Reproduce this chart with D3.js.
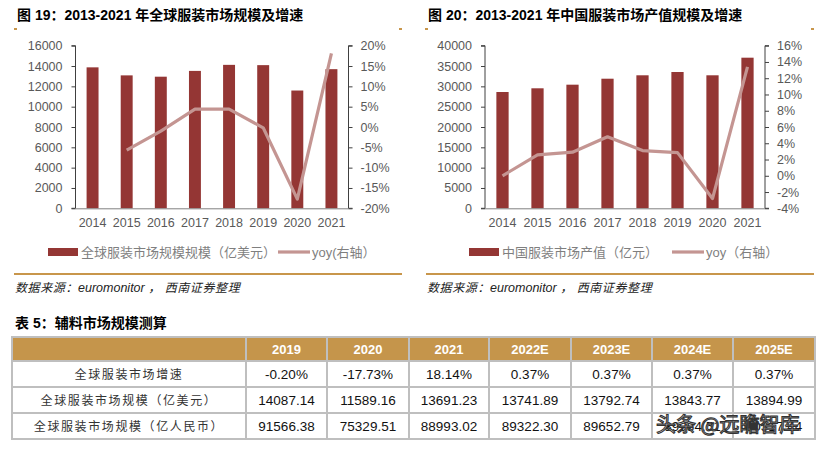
<!DOCTYPE html>
<html><head><meta charset="utf-8">
<script src="https://cdn.jsdelivr.net/npm/d3@7"></script>
<style>
html,body{margin:0;padding:0;background:#fff;}
svg{display:block;}
</style></head>
<body><svg id="c" width="820" height="449"></svg>
<script>
// ---------- data ----------
const years = ["2014","2015","2016","2017","2018","2019","2020","2021"];
const globalSize = [13870, 13080, 12950, 13520, 14115, 14087, 11589, 13691];
const globalYoy = [null, -5.7, -1.0, 4.4, 4.4, -0.2, -17.73, 18.14];
const chinaSize = [28610, 29520, 30410, 31880, 32720, 33530, 32720, 37050];
const chinaYoy = [0.0, 2.56, 2.9, 4.8, 3.1, 2.85, -2.8, 13.4];
const leftTicks1 = [0,2000,4000,6000,8000,10000,12000,14000,16000];
const rightTicks1 = [-20,-15,-10,-5,0,5,10,15,20];
const leftTicks2 = [0,5000,10000,15000,20000,25000,30000,35000,40000];
const rightTicks2 = [-4,-2,0,2,4,6,8,10,12,14,16];
const tableCols = ["2019","2020","2021","2022E","2023E","2024E","2025E"];
const rowLabels = ["全球服装市场增速","全球服装市场规模（亿美元）","全球服装市场规模（亿人民币）"];
const rowGrowth = ["-0.20%","-17.73%","18.14%","0.37%","0.37%","0.37%","0.37%"];
const rowUSD = ["14087.14","11589.16","13691.23","13741.89","13792.74","13843.77","13894.99"];
const rowRMB = ["91566.38","75329.51","88993.02","89322.30","89652.79","89984.51","90317.44"];

const svg = d3.select("#c");
svg.append("rect").attr("width",820).attr("height",449).attr("fill","#fff");
const NUM = "'Liberation Sans', Arial, 'Noto Sans CJK SC', sans-serif";
const CJK = "'Liberation Sans', 'Noto Sans CJK SC', sans-serif";
const BAR = "#943634", LINE = "#C49592", GOLD = "#C8964B", TICK = "#595959";

function chart(o){
  const g = svg.append("g");
  // title
  g.append("text").attr("x",o.tx).attr("y",20).attr("font-family",CJK).attr("font-weight","bold")
    .attr("font-size",14).attr("fill","#000").text(o.title);
  g.append("rect").attr("x",o.tx-3).attr("y",28).attr("width",3).attr("height",2).attr("fill",GOLD);
  g.append("rect").attr("x",o.sepR-3).attr("y",28).attr("width",3).attr("height",2).attr("fill",GOLD);
  const yT = 45.7, yB = 208.3;
  const x = d3.scaleBand().domain(years).range([o.x0,o.x1]).paddingInner(0.65).paddingOuter(0.325);
  const yl = d3.scaleLinear().domain(o.ld).range([yB,yT]);
  const yr = d3.scaleLinear().domain(o.rd).range([yB,yT]);
  // bars
  g.selectAll(".bar").data(o.bars).join("rect")
    .attr("x",(d,i)=>x(years[i])).attr("width",x.bandwidth())
    .attr("y",d=>yl(d)).attr("height",d=>yB-yl(d)).attr("fill",BAR);
  // line
  const pts = o.line.map((v,i)=>[x(years[i])+x.bandwidth()/2, v]).filter(p=>p[1]!==null);
  g.append("path").datum(pts).attr("fill","none").attr("stroke",LINE).attr("stroke-width",3.2)
    .attr("stroke-linejoin","round")
    .attr("d",d3.line().x(p=>p[0]).y(p=>yr(p[1])));
  // axes
  const la = d3.axisLeft(yl).tickValues(o.lt).tickSize(4).tickPadding(9).tickFormat(d3.format("d"));
  const ga = g.append("g").attr("transform",`translate(${o.x0},0)`).call(la);
  const ra = d3.axisRight(yr).tickValues(o.rt).tickSize(4).tickPadding(8).tickFormat(d=>d+"%");
  const gr = g.append("g").attr("transform",`translate(${o.x1},0)`).call(ra);
  [ga,gr].forEach(a=>{
    a.select(".domain").attr("stroke","#404040").attr("d", a===ga?`M-4,${yT}H0V${yB}H-4`:`M4,${yT}H0V${yB}H4`);
    a.selectAll(".tick line").attr("stroke","#404040");
    a.selectAll("text").attr("font-family",NUM).attr("font-size",12.5).attr("fill",TICK);
  });
  const xa = d3.axisBottom(x).tickSize(0).tickPadding(10);
  const gx = g.append("g").attr("transform",`translate(0,${yB})`).call(xa);
  gx.select(".domain").attr("stroke","#808080").attr("d",`M${o.x0},0.5H${o.x1}`);
  gx.selectAll("text").attr("font-family",NUM).attr("font-size",12.5).attr("fill",TICK);
  // legend
  g.append("rect").attr("x",o.lg1).attr("y",248).attr("width",30).attr("height",8).attr("fill",BAR);
  g.append("text").attr("x",o.lg1+33).attr("y",257).attr("font-family",CJK).attr("font-size",13)
    .attr("fill","#7F7F7F").text(o.leg1);
  g.append("line").attr("x1",o.lg2).attr("x2",o.lg2+32).attr("y1",252).attr("y2",252)
    .attr("stroke",LINE).attr("stroke-width",3.2);
  g.append("text").attr("x",o.lg2+34).attr("y",257).attr("font-family",CJK).attr("font-size",13)
    .attr("fill","#7F7F7F").text(o.leg2);
  // separator + source
  g.append("line").attr("x1",o.sepL).attr("x2",o.sepR).attr("y1",274).attr("y2",274)
    .attr("stroke",GOLD).attr("stroke-width",2);
  const src = g.append("text").attr("x",o.sepL+1).attr("y",292).attr("font-family",CJK).attr("font-size",12)
    .attr("font-style","italic").attr("fill","#222");
  src.append("tspan").attr("letter-spacing","0.6px").text("数据来源：");
  src.append("tspan").attr("font-size",12.5).text("euromonitor ，");
  src.append("tspan").attr("letter-spacing","0.6px").text(" 西南证券整理");
}

chart({title:"图 19：2013-2021 年全球服装市场规模及增速", tx:17, x0:75.5, x1:348.5,
  ld:[0,16000], rd:[-20,20], lt:leftTicks1, rt:rightTicks1, bars:globalSize, line:globalYoy,
  lg1:48, leg1:"全球服装市场规模规模（亿美元）", lg2:278, leg2:"yoy(右轴）", sepL:14, sepR:402});
chart({title:"图 20：2013-2021 年中国服装市场产值规模及增速", tx:428, x0:485, x1:765,
  ld:[0,40000], rd:[-4,16], lt:leftTicks2, rt:rightTicks2, bars:chinaSize, line:chinaYoy,
  lg1:469, leg1:"中国服装市场产值（亿元）", lg2:672, leg2:"yoy（右轴）", sepL:426, sepR:814});

// ---------- table ----------
svg.append("text").attr("x",15).attr("y",328).attr("font-family",CJK).attr("font-weight","bold")
  .attr("font-size",14).attr("fill","#000").text("表 5：辅料市场规模测算");
const colX = [12,246,327,409,489,571,652,733,815];
const rowY = [337,361,387,413,439];
const tg = svg.append("g");
tg.append("rect").attr("x",colX[0]).attr("y",rowY[0]).attr("width",colX[8]-colX[0]).attr("height",rowY[1]-rowY[0]).attr("fill","#C5954B");
const rows = [rowGrowth,rowUSD,rowRMB];
tableCols.forEach((c,j)=>{
  tg.append("text").attr("x",(colX[j+1]+colX[j+2])/2).attr("y",(rowY[0]+rowY[1])/2+5)
    .attr("text-anchor","middle").attr("font-family",NUM).attr("font-weight","bold").attr("font-size",13)
    .attr("fill","#fff").text(c);
});
rows.forEach((r,i)=>{
  tg.append("text").attr("x",(colX[0]+colX[1])/2).attr("y",(rowY[i+1]+rowY[i+2])/2+5)
    .attr("text-anchor","middle").attr("font-family","'Noto Sans CJK SC', sans-serif").attr("font-size",12)
    .attr("letter-spacing","1.6px").attr("fill","#333").text(rowLabels[i]);
  r.forEach((v,j)=>{
    tg.append("text").attr("x",(colX[j+1]+colX[j+2])/2).attr("y",(rowY[i+1]+rowY[i+2])/2+5)
      .attr("text-anchor","middle").attr("font-family",NUM).attr("font-size",13.5)
      .attr("fill","#111").text(v);
  });
});
colX.forEach(xv=>tg.append("line").attr("x1",xv).attr("x2",xv).attr("y1",rowY[0]).attr("y2",rowY[4])
  .attr("stroke","#BFBFBF").attr("stroke-width",2));
rowY.forEach(yv=>tg.append("line").attr("x1",colX[0]-1).attr("x2",colX[8]+1).attr("y1",yv).attr("y2",yv)
  .attr("stroke","#BFBFBF").attr("stroke-width",2));

// watermark (as in the reference, it sits over the last two RMB cells)
svg.append("text").attr("x",656).attr("y",432).attr("font-family","'Noto Sans CJK SC', sans-serif")
  .attr("font-size",20).attr("fill","#fff").attr("stroke","#333").attr("stroke-width",1.1)
  .text("头条 @远瞻智库");
</script></body></html>
